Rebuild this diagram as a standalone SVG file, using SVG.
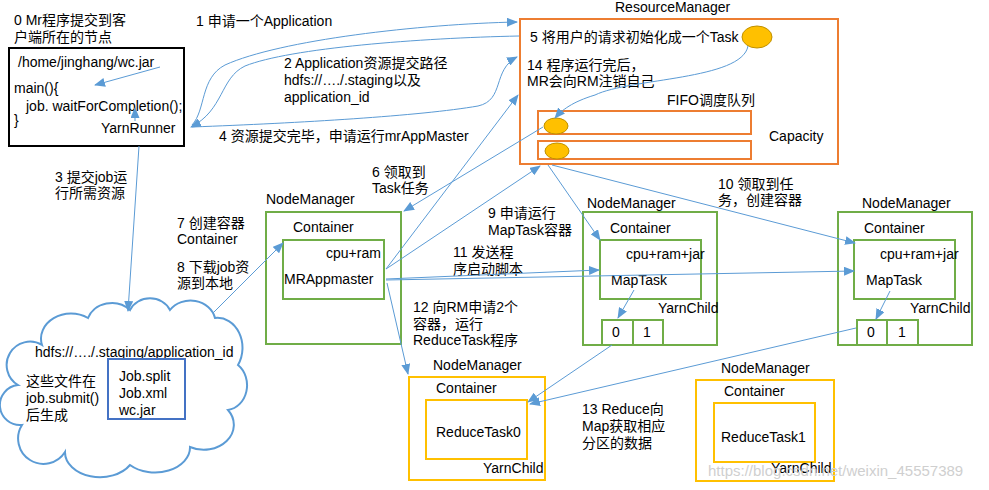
<svg xmlns="http://www.w3.org/2000/svg" width="989" height="490" viewBox="0 0 989 490">
<defs>
<style>
text{font-family:"Liberation Sans","Noto Sans CJK SC",sans-serif;font-size:14px;fill:#000}
.ln{fill:none;stroke:#5B9BD5;stroke-width:1}
.g{fill:none;stroke:#70AD47;stroke-width:2}
.o{fill:none;stroke:#ED7D31;stroke-width:2}
.y{fill:none;stroke:#FFC000;stroke-width:2}
.el{fill:#FFC000;stroke:#BF9000;stroke-width:1}
.wm{fill:#cfcfcf;font-size:15px}
</style>
<marker id="a" markerUnits="userSpaceOnUse" markerWidth="11" markerHeight="9" refX="10" refY="4.5" orient="auto">
<path d="M0,0 L11,4.5 L0,9 Z" fill="#5B9BD5"/>
</marker>
</defs>
<rect width="989" height="490" fill="#fff"/>

<g id="client">
<text x="14" y="25">0 Mr程序提交到客</text>
<text x="14" y="42">户端所在的节点</text>
<rect x="9" y="48" width="175" height="98" fill="none" stroke="#000" stroke-width="2"/>
<text x="18" y="67">/home/jinghang/wc.jar</text>
<text x="14" y="93">main(){</text>
<text x="26" y="111">job. waitForCompletion();</text>
<text x="14" y="125">}</text>
<text x="101" y="133">YarnRunner</text>
</g>

<g id="rm">
<text x="615" y="12">ResourceManager</text>
<rect x="520" y="19" width="318" height="145" class="o"/>
<text x="530" y="42">5 将用户的请求初始化成一个Task</text>
<ellipse cx="757" cy="37" rx="15" ry="11" class="el"/>
<text x="527" y="70">14 程序运行完后，</text>
<text x="527" y="86">MR会向RM注销自己</text>
<text x="667" y="105">FIFO调度队列</text>
<rect x="538" y="111" width="213" height="23" class="o"/>
<rect x="538" y="141" width="213" height="18" class="o"/>
<ellipse cx="556" cy="126" rx="12" ry="8" class="el"/>
<ellipse cx="557" cy="151" rx="12" ry="8" class="el"/>
<text x="769" y="141">Capacity</text>
</g>

<g id="cloud">
<path d="M42,345 A30,25 0 0 1 88,318 A25,22 0 0 1 130,310 A22,20 0 0 1 170,310 A25,22 0 0 1 215,318 A25,30 0 0 1 238,365 A22,25 0 0 1 228,410 A30,25 0 0 1 190,447 A35,25 0 0 1 130,465 A35,25 0 0 1 65,452 A25,25 0 0 1 22,425 A20,20 0 0 1 18,385 A22,22 0 0 1 42,345 Z" fill="none" stroke="#5B9BD5" stroke-width="2"/>
<text x="35" y="357">hdfs://…./.staging/application_id</text>
<rect x="108" y="359" width="77" height="60" fill="none" stroke="#4472C4" stroke-width="2"/>
<text x="119" y="381">Job.split</text>
<text x="119" y="398">Job.xml</text>
<text x="119" y="415">wc.jar</text>
<text x="26" y="386">这些文件在</text>
<text x="26" y="403">job.submit()</text>
<text x="26" y="420">后生成</text>
</g>

<g id="nm1">
<text x="266" y="204">NodeManager</text>
<rect x="266" y="212" width="135" height="132" class="g"/>
<text x="293" y="232">Container</text>
<rect x="283" y="240" width="101" height="59" class="g"/>
<text x="326" y="258">cpu+ram</text>
<text x="284" y="284">MRAppmaster</text>
</g>

<g id="nm2">
<text x="587" y="208">NodeManager</text>
<rect x="583" y="212" width="134" height="133" class="g"/>
<text x="610" y="233">Container</text>
<rect x="600" y="240" width="101" height="59" class="g"/>
<text x="626" y="259">cpu+ram+jar</text>
<text x="611" y="285">MapTask</text>
<text x="658" y="313">YarnChild</text>
<rect x="602" y="320" width="31" height="25" class="g"/>
<rect x="633" y="320" width="30" height="25" class="g"/>
<text x="612" y="337">0</text>
<text x="643" y="337">1</text>
</g>

<g id="nm3">
<text x="862" y="208">NodeManager</text>
<rect x="838" y="212" width="134" height="133" class="g"/>
<text x="864" y="233">Container</text>
<rect x="854" y="240" width="101" height="59" class="g"/>
<text x="880" y="259">cpu+ram+jar</text>
<text x="866" y="285">MapTask</text>
<text x="910" y="313">YarnChild</text>
<rect x="857" y="320" width="30" height="25" class="g"/>
<rect x="887" y="320" width="31" height="25" class="g"/>
<text x="867" y="337">0</text>
<text x="898" y="337">1</text>
</g>

<g id="nm4">
<text x="433" y="370">NodeManager</text>
<rect x="409" y="377" width="136" height="103" class="y"/>
<text x="436" y="393">Container</text>
<rect x="426" y="400" width="101" height="59" class="y"/>
<text x="436" y="437">ReduceTask0</text>
<text x="483" y="473">YarnChild</text>
</g>

<g id="nm5">
<text x="721" y="373">NodeManager</text>
<rect x="696" y="380" width="138" height="101" class="y"/>
<text x="724" y="396">Container</text>
<rect x="714" y="403" width="101" height="59" class="y"/>
<text x="721" y="442">ReduceTask1</text>
<text x="771" y="473">YarnChild</text>
</g>

<g id="labels">
<text x="196" y="26">1 申请一个Application</text>
<text x="284" y="68">2 Application资源提交路径</text>
<text x="284" y="85">hdfs://…./.staging以及</text>
<text x="284" y="102">application_id</text>
<text x="219" y="141">4 资源提交完毕，申请运行mrAppMaster</text>
<text x="55" y="182">3 提交job运</text>
<text x="55" y="198">行所需资源</text>
<text x="177" y="228">7 创建容器</text>
<text x="177" y="244">Container</text>
<text x="177" y="272">8 下载job资</text>
<text x="177" y="288">源到本地</text>
<text x="372" y="177">6 领取到</text>
<text x="372" y="193">Task任务</text>
<text x="488" y="218">9 申请运行</text>
<text x="488" y="235">MapTask容器</text>
<text x="453" y="257">11 发送程</text>
<text x="453" y="274">序启动脚本</text>
<text x="413" y="312">12 向RM申请2个</text>
<text x="413" y="329">容器，运行</text>
<text x="413" y="345">ReduceTask程序</text>
<text x="718" y="189">10 领取到任</text>
<text x="718" y="205">务，创建容器</text>
<text x="582" y="414">13 Reduce向</text>
<text x="582" y="431">Map获取相应</text>
<text x="582" y="448">分区的数据</text>
<text x="708" y="476" class="wm">https://blog.csdn.net/weixin_45557389</text>
</g>

<g id="connectors">
<path class="ln" marker-end="url(#a)" d="M160,67 L95,85"/>
<path class="ln" marker-end="url(#a)" d="M135,121 L135,108"/>
<path class="ln" marker-end="url(#a)" d="M192,125 C206,110 200,78 225,65 C280,40 420,24 517,22"/>
<path class="ln" marker-end="url(#a)" d="M519,36 C420,38 290,48 245,66 C220,78 224,110 191,127"/>
<path class="ln" marker-end="url(#a)" d="M192,127 C300,123 420,116 478,106 C505,100 492,70 517,57"/>
<path class="ln" marker-end="url(#a)" d="M748,46 C742,80 630,78 595,95 C572,102 562,110 555,118"/>
<path class="ln" marker-end="url(#a)" d="M139,146 L128,311"/>
<path class="ln" marker-end="url(#a)" d="M213,313 L283,243"/>
<path class="ln" marker-end="url(#a)" d="M543,127 L404,211"/>
<path class="ln" marker-end="url(#a)" d="M386,269 L518,95"/>
<path class="ln" marker-end="url(#a)" d="M386,269 L540,166"/>
<path class="ln" marker-end="url(#a)" d="M548,165 L600,240"/>
<path class="ln" marker-end="url(#a)" d="M552,165 L855,243"/>
<path class="ln" marker-end="url(#a)" d="M386,279 L599,270"/>
<path class="ln" marker-end="url(#a)" d="M386,280 L854,271"/>
<path class="ln" marker-end="url(#a)" d="M387,283 L408,374"/>
<path class="ln" marker-end="url(#a)" d="M634,290 L618,318"/>
<path class="ln" marker-end="url(#a)" d="M890,291 L876,319"/>
<path class="ln" marker-end="url(#a)" d="M612,345 L528,402"/>
<path class="ln" marker-end="url(#a)" d="M856,328 L530,404"/>
</g>
</svg>
